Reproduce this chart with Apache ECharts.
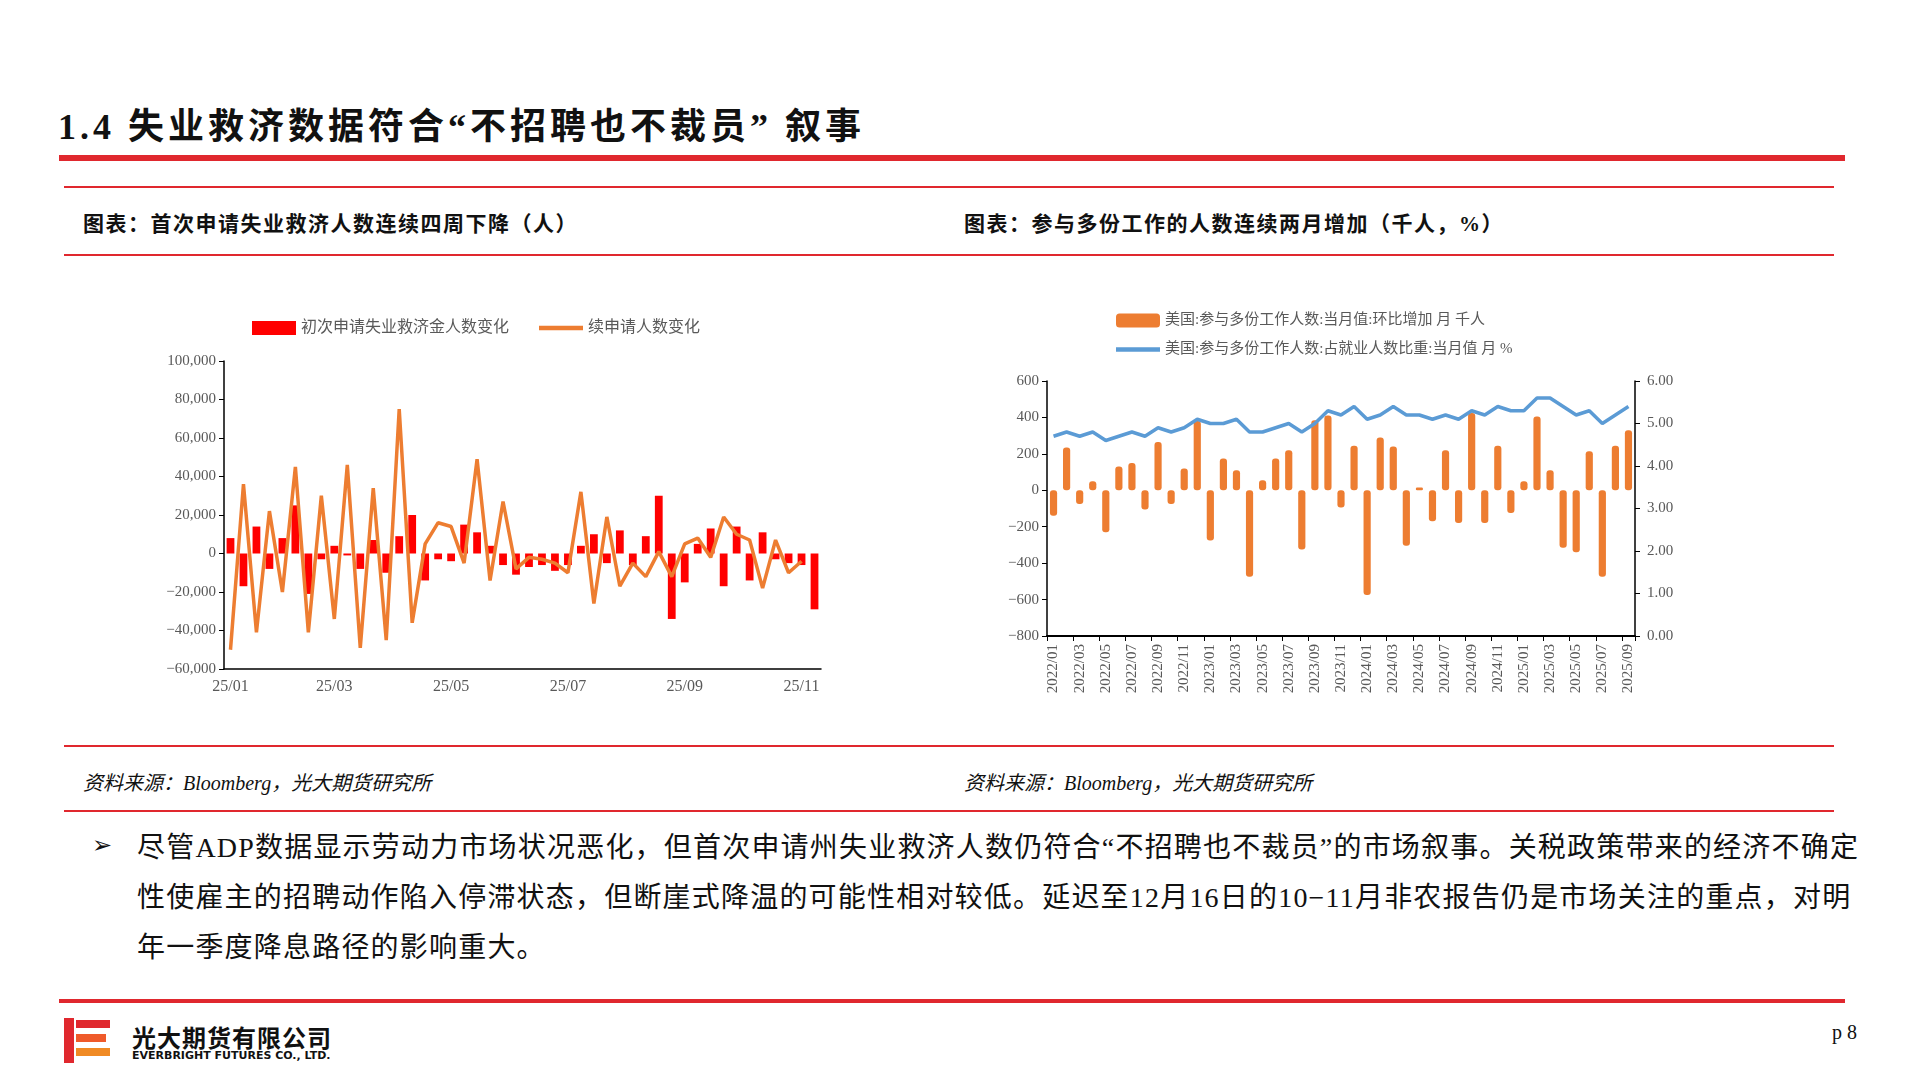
<!DOCTYPE html>
<html>
<head>
<meta charset="utf-8">
<script src="https://cdn.jsdelivr.net/npm/echarts@6/dist/echarts.min.js"></script>
<style>
body{margin:0;width:1920px;height:1080px;background:#fff;position:relative;overflow:hidden;font-family:"Liberation Serif","Noto Sans CJK SC",serif;}
.abs{position:absolute;}
.hl{position:absolute;left:64px;width:1770px;background:#e0282e;}
#c1{position:absolute;left:60px;top:300px;width:800px;height:420px;}
#c2{position:absolute;left:960px;top:290px;width:780px;height:450px;}
</style>
</head>
<body>
<div class="abs" style="left:58px;top:97px;font-size:36px;font-weight:bold;color:#111;letter-spacing:4px;">1.4 失业救济数据符合“不招聘也不裁员” 叙事</div>
<div class="hl" style="left:59px;width:1786px;top:155px;height:6px;"></div>
<div class="hl" style="top:186px;height:2px;"></div>
<div class="hl" style="top:254px;height:2px;"></div>
<div class="abs" style="left:83px;top:207px;font-size:21px;font-weight:bold;color:#111;letter-spacing:1.5px;">图表：首次申请失业救济人数连续四周下降（人）</div>
<div class="abs" style="left:964px;top:207px;font-size:21px;font-weight:bold;color:#111;letter-spacing:1.5px;">图表：参与多份工作的人数连续两月增加（千人，%）</div>
<div class="hl" style="top:745px;height:2px;"></div>
<div class="hl" style="top:810px;height:2px;"></div>
<div class="abs" style="left:83px;top:767px;font-size:20px;font-style:italic;color:#111;">资料来源：Bloomberg，光大期货研究所</div>
<div class="abs" style="left:964px;top:767px;font-size:20px;font-style:italic;color:#111;">资料来源：Bloomberg，光大期货研究所</div>
<div class="abs" style="left:92px;top:831px;font-size:24px;color:#111;">➢</div>
<div class="abs" style="left:137px;top:823px;width:1725px;font-size:28px;line-height:50px;letter-spacing:1.2px;color:#111;">尽管ADP数据显示劳动力市场状况恶化，但首次申请州失业救济人数仍符合“不招聘也不裁员”的市场叙事。关税政策带来的经济不确定性使雇主的招聘动作陷入停滞状态，但断崖式降温的可能性相对较低。延迟至12月16日的10−11月非农报告仍是市场关注的重点，对明年一季度降息路径的影响重大。</div>
<div class="hl" style="left:59px;width:1786px;top:999px;height:4px;"></div>
<div class="abs" style="left:64px;top:1018px;width:10px;height:45px;background:#e0282e;"></div>
<div class="abs" style="left:76px;top:1020px;width:34px;height:8px;background:#e0282e;"></div>
<div class="abs" style="left:76px;top:1034px;width:30px;height:8px;background:#ef5a2a;"></div>
<div class="abs" style="left:76px;top:1048px;width:34px;height:8px;background:#f08a24;"></div>
<div class="abs" style="left:132px;top:1019px;font-size:24px;font-weight:bold;font-family:'Noto Sans CJK SC';color:#111;letter-spacing:1px;">光大期货有限公司</div>
<div class="abs" style="left:132px;top:1049px;font-size:11px;font-weight:bold;font-family:'DejaVu Sans';color:#111;">EVERBRIGHT FUTURES CO., LTD.</div>
<div class="abs" style="left:1832px;top:1021px;font-size:20px;color:#111;">p 8</div>
<div id="c1"></div>
<div id="c2"></div>
<script>
// 左图：周度数据
let weeks=[]
let d=new Date(2025,0,3)
for(let i=0;i<46;i++){weeks.push((d.getFullYear()%100)+'/'+String(d.getMonth()+1).padStart(2,'0')+'/'+String(d.getDate()).padStart(2,'0'));d.setDate(d.getDate()+7)}
let weekLabelIdx=[0,8,17,26,35,44]
let weekLabels=['25/01','25/03','25/05','25/07','25/09','25/11']
let initChange=[8000,-17000,14000,-8000,8000,25000,-21000,-3000,4000,-1000,-8000,7000,-10000,9000,20000,-14000,-3000,-4000,15000,11000,4000,-6000,-11000,-7000,-6000,-9000,-6000,4000,10000,-5000,12000,-6000,9000,30000,-34000,-15000,5000,13000,-17000,14000,-14000,11000,-3000,-5000,-6000,-29000]
let contChange=[-50000,36000,-41000,22000,-20000,45000,-41000,30000,-34000,46000,-49000,34000,-45000,75000,-36000,5000,16000,14000,-5000,49000,-14000,27000,-8000,-2000,-3000,-5000,-10000,32000,-26000,19000,-17000,-5000,-12000,1000,-12000,5000,8000,-2000,19000,10000,7000,-18000,7000,-10000,-4000]

// 右图：月度数据
let months=[]
for(let y=2022;y<=2025;y++)for(let m=1;m<=12;m++){if(y==2025&&m>9)break;months.push(y+'/'+String(m).padStart(2,'0'))}
let multiJobChg=[-140,235,-75,50,-230,130,150,-105,265,-75,120,380,
-275,175,110,-475,55,175,220,-325,385,410,-95,245,
-575,290,240,-305,15,-170,220,-180,425,-180,245,-125,
50,405,110,-315,-340,215,-475,245,330]
let multiJobShare=[4.7,4.8,4.7,4.8,4.6,4.7,4.8,4.7,4.9,4.8,4.9,5.1,
5.0,5.0,5.1,4.8,4.8,4.9,5.0,4.8,5.0,5.3,5.2,5.4,
5.1,5.2,5.4,5.2,5.2,5.1,5.2,5.1,5.3,5.2,5.4,5.3,
5.3,5.6,5.6,5.4,5.2,5.3,5.0,5.2,5.4]

let font='"Liberation Serif","Noto Sans CJK SC",serif'
let gray='#595959'
let lineIcon='path://M0 0H40V4H0Z'
function fmt(v){return v.toLocaleString('en-US').replace('-','−')}

var chart1=echarts.init(document.getElementById('c1'))
chart1.setOption({
    animation:false,
    textStyle:{fontFamily:font},
    legend:{left:187,top:15,itemWidth:44,itemHeight:14,itemGap:30,textStyle:{fontSize:16,color:gray,fontFamily:font},
        data:[{name:'初次申请失业救济金人数变化',icon:'rect'},{name:'续申请人数变化',icon:lineIcon}]},
    grid:{left:164,top:61,width:597,height:308},
    xAxis:[{type:'category',data:weeks,axisLine:{show:false},axisTick:{show:false},
        axisLabel:{interval:0,fontSize:16,color:gray,margin:10,formatter:function(v,i){let k=weekLabelIdx.indexOf(i);return k>=0?weekLabels[k]:''}}},
        {type:'category',data:weeks,position:'bottom',axisLine:{onZero:true,lineStyle:{color:'#000',width:1.5}},axisTick:{show:false},axisLabel:{show:false}}],
    yAxis:{type:'value',min:-60000,max:100000,interval:20000,splitLine:{show:false},
        axisLine:{show:true,lineStyle:{color:'#000',width:1.5}},axisTick:{show:true,length:5,lineStyle:{color:'#000'}},
        axisLabel:{fontSize:15,color:gray,formatter:fmt}},
    series:[{name:'初次申请失业救济金人数变化',type:'bar',data:initChange,barWidth:'60%',itemStyle:{color:'#ff0000'}},
        {name:'续申请人数变化',type:'line',data:contChange,symbol:'none',lineStyle:{color:'#ed7d31',width:3.5},itemStyle:{color:'#ed7d31'}}]
})

var chart2=echarts.init(document.getElementById('c2'))
chart2.setOption({
    animation:false,
    textStyle:{fontFamily:font},
    legend:{orient:'vertical',left:151,top:18,itemWidth:44,itemHeight:14,itemGap:14,textStyle:{fontSize:15,color:gray,fontFamily:font},
        data:[{name:'美国:参与多份工作人数:当月值:环比增加 月 千人',icon:'roundRect'},{name:'美国:参与多份工作人数:占就业人数比重:当月值 月 %',icon:lineIcon}]},
    grid:{left:87,top:91,width:588,height:255},
    xAxis:[{type:'category',data:months,axisLine:{show:false},axisTick:{show:false},
        axisLabel:{interval:1,rotate:90,fontSize:15,color:gray,margin:8}},
        {type:'category',data:months,position:'bottom',axisLine:{onZero:true,lineStyle:{color:'#000',width:2}},
        axisTick:{show:true,interval:1,length:5,lineStyle:{color:'#000'}},axisLabel:{show:false}}],
    yAxis:[{type:'value',min:-800,max:600,interval:200,splitLine:{show:false},
        axisLine:{show:true,lineStyle:{color:'#000',width:1.5}},axisTick:{show:true,length:5,lineStyle:{color:'#000'}},
        axisLabel:{fontSize:15,color:gray,formatter:fmt}},
        {type:'value',min:0,max:6,interval:1,position:'right',splitLine:{show:false},
        axisLine:{show:true,lineStyle:{color:'#000',width:1.5}},axisTick:{show:true,length:5,lineStyle:{color:'#000'}},
        axisLabel:{fontSize:15,color:gray,margin:12,formatter:function(v){return v.toFixed(2)}}}],
    series:[{name:'美国:参与多份工作人数:当月值:环比增加 月 千人',type:'bar',data:multiJobChg,barWidth:'55%',itemStyle:{color:'#ed7d31',borderRadius:3}},
        {name:'美国:参与多份工作人数:占就业人数比重:当月值 月 %',type:'line',yAxisIndex:1,data:multiJobShare,symbol:'none',lineStyle:{color:'#5b9bd5',width:3.5},itemStyle:{color:'#5b9bd5'}}]
})
</script>
</body>
</html>
